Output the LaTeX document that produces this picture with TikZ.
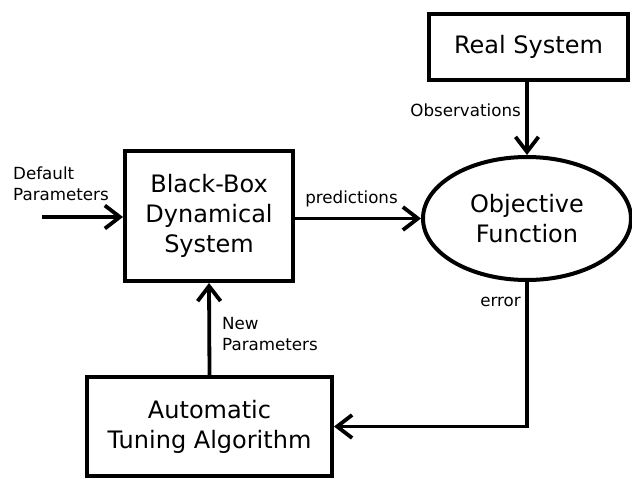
\documentclass[tikz,border=0pt]{standalone}
\usepackage{fontspec}
\setmainfont{DejaVu Sans}
\usetikzlibrary{arrows.meta,shapes.geometric}
\tikzset{
  big/.style={font=\fontsize{24}{30}\selectfont, align=center},
  small/.style={font=\fontsize{16.7}{21}\selectfont, inner sep=0pt},
  blk/.style={draw, line width=4pt, big, inner sep=0pt},
  arr/.style={line width=3.8pt, -{Straight Barb[length=15pt, width=23pt, line join=miter]}},
  conn/.style={line width=3.8pt}
}
\begin{document}
\begin{tikzpicture}[x=1pt,y=-1pt]
\useasboundingbox (0,0) rectangle (632,479);
\node[blk, minimum width=168pt, minimum height=130pt] (bb) at (209,216) {Black-Box\\Dynamical\\System};
\node[blk, minimum width=199pt, minimum height=66pt] (rs) at (528.5,47) {Real System};
\node[blk, ellipse, minimum width=208pt, minimum height=123pt] (obj) at (527,218.5) {Objective\\Function};
\node[blk, minimum width=245pt, minimum height=99pt] (tun) at (209.5,426.5) {Automatic\\Tuning Algorithm};
\coordinate (din) at (42,217);
\draw[arr] (din) -- (din -| bb.west);
\draw[arr] (bb.east |- obj.west) -- (obj.west);
\draw[arr] (obj.north |- rs.south) -- (obj.north);
\draw[arr] (obj.south) |- (tun.east);
\draw[arr] (tun.north) -- (bb.south);
\node[small, anchor=west, align=left] (ldef) at (13,184) {Default\\Parameters};
\node[small] (lpred) at (351.5,199) {predictions};
\node[small, anchor=east] (lobs) at (521,110) {Observations};
\node[small, anchor=east] (lerr) at (521,302) {error};
\node[small, anchor=west, align=left] (lnew) at (222,334) {New\\Parameters};
\end{tikzpicture}
\end{document}
